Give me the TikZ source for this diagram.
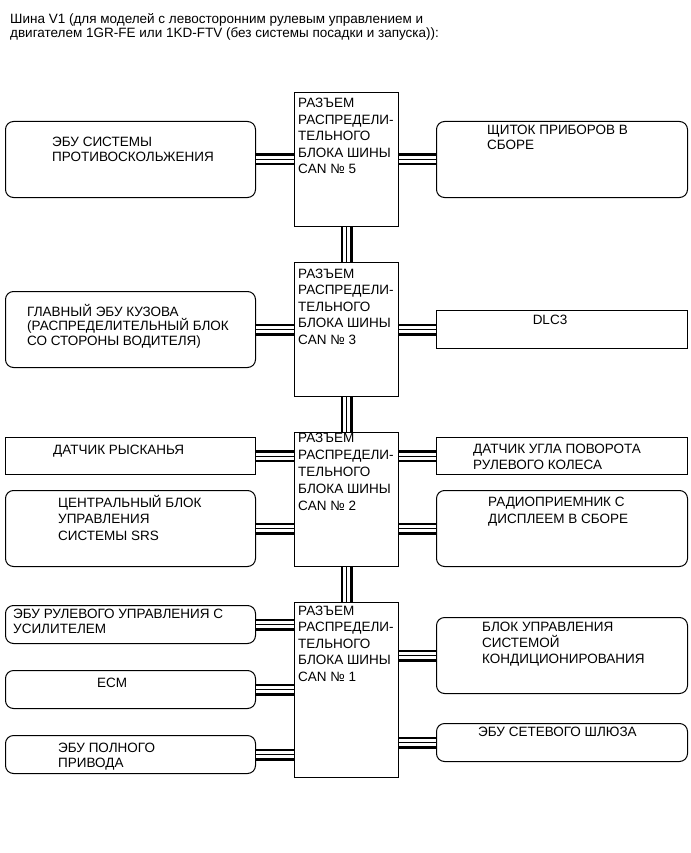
\documentclass[tikz,border=0pt]{standalone}
\usepackage{fontspec}
\setmainfont{Liberation Sans}
\begin{document}
\begin{tikzpicture}[x=1pt,y=-1pt,
  box/.style={draw=black, line width=1pt, inner sep=0pt, anchor=north west, minimum width=250pt},
  rbox/.style={box, rounded corners=8pt},
  hub/.style={draw=black, line width=1pt, inner sep=0pt, anchor=north west, minimum width=104pt},
  txt/.style={inner sep=0pt, anchor=base west, align=left, font=\fontsize{13.5}{15}\selectfont},
  htxt/.style={txt, font=\fontsize{13.5}{16.5}\selectfont},
  bus/.style={draw=black, line width=12pt, postaction={draw=white, line width=7pt}, postaction={draw=black, line width=1pt}}
]
\fill[white] (0,0) rectangle (690,853);
\useasboundingbox (0,0) rectangle (690,853);

% multi-line text nodes are placed by the baseline of their last line
\node[txt, font=\fontsize{13.5}{14}\selectfont] (title) at (10,38) {Шина V1 (для моделей с левосторонним рулевым управлением и\\двигателем 1GR-FE или 1KD-FTV (без системы посадки и запуска)):};

% hubs
\node[hub, minimum height=134pt] (h5) at (294,92) {};
\node[hub, minimum height=134pt] (h3) at (294,262) {};
\node[hub, minimum height=134pt] (h2) at (294,432) {};
\node[hub, minimum height=175pt] (h1) at (294,602) {};
\node[htxt] (t5) at (298,174) {РАЗЪЕМ\\РАСПРЕДЕЛИ-\\ТЕЛЬНОГО\\БЛОКА ШИНЫ\\CAN № 5};
\node[htxt] (t3) at (298,344) {РАЗЪЕМ\\РАСПРЕДЕЛИ-\\ТЕЛЬНОГО\\БЛОКА ШИНЫ\\CAN № 3};
\node[htxt, font=\fontsize{13.5}{17}\selectfont] (t2) at (298,510) {РАЗЪЕМ\\РАСПРЕДЕЛИ-\\ТЕЛЬНОГО\\БЛОКА ШИНЫ\\CAN № 2};
\node[htxt] (t1) at (298,681) {РАЗЪЕМ\\РАСПРЕДЕЛИ-\\ТЕЛЬНОГО\\БЛОКА ШИНЫ\\CAN № 1};

% left boxes
\node[rbox, minimum height=76pt] (l5) at (5,121) {};
\node[rbox, minimum height=76pt] (l3) at (5,291) {};
\node[box, minimum height=37pt] (l2a) at (5,437) {};
\node[rbox, minimum height=76pt] (l2b) at (5,490) {};
\node[rbox, minimum height=38pt] (l1a) at (5,605) {};
\node[rbox, minimum height=38pt] (l1b) at (5,670) {};
\node[rbox, minimum height=38pt] (l1c) at (5,735) {};

% right boxes
\node[rbox, minimum width=251pt, minimum height=76pt] (r5) at (436,121) {};
\node[box, minimum width=251pt, minimum height=38pt] (r3) at (436,310) {};
\node[box, minimum width=251pt, minimum height=37pt] (r2a) at (436,437) {};
\node[rbox, minimum width=251pt, minimum height=76pt] (r2b) at (436,490) {};
\node[rbox, minimum width=251pt, minimum height=76pt] (r1a) at (436,617) {};
\node[rbox, minimum width=251pt, minimum height=38pt] (r1b) at (436,723) {};

% texts
\node[txt] (tl5) at (52,161) {ЭБУ СИСТЕМЫ\\ПРОТИВОСКОЛЬЖЕНИЯ};
\node[txt] (tr5) at (487,150) {ЩИТОК ПРИБОРОВ В\\СБОРЕ};
\node[txt, font=\fontsize{13.5}{14.5}\selectfont] (tl3) at (27,345) {ГЛАВНЫЙ ЭБУ КУЗОВА\\(РАСПРЕДЕЛИТЕЛЬНЫЙ БЛОК\\СО СТОРОНЫ ВОДИТЕЛЯ)};
\node[txt, anchor=base] (tr3) at (550,324) {DLC3};
\node[txt] (tl2a) at (53,454) {ДАТЧИК РЫСКАНЬЯ};
\node[txt, font=\fontsize{13.5}{16.5}\selectfont] (tl2b) at (58,540) {ЦЕНТРАЛЬНЫЙ БЛОК\\УПРАВЛЕНИЯ\\СИСТЕМЫ SRS};
\node[txt, font=\fontsize{13.5}{16.5}\selectfont] (tr2a) at (473,469.5) {ДАТЧИК УГЛА ПОВОРОТА\\РУЛЕВОГО КОЛЕСА};
\node[txt, font=\fontsize{13.5}{17}\selectfont] (tr2b) at (488,523) {РАДИОПРИЕМНИК С\\ДИСПЛЕЕМ В СБОРЕ};
\node[txt] (tl1a) at (13,633) {ЭБУ РУЛЕВОГО УПРАВЛЕНИЯ С\\УСИЛИТЕЛЕМ};
\node[txt, anchor=base] (tl1b) at (112,687) {ECM};
\node[txt] (tl1c) at (58,767) {ЭБУ ПОЛНОГО\\ПРИВОДА};
\node[txt, font=\fontsize{13.5}{16}\selectfont] (tr1a) at (482,663) {БЛОК УПРАВЛЕНИЯ\\СИСТЕМОЙ\\КОНДИЦИОНИРОВАНИЯ};
\node[txt] (tr1b) at (478,736) {ЭБУ СЕТЕВОГО ШЛЮЗА};

% bus connectors
\draw[bus] (h5.south) -- (h3.north);
\draw[bus] (h3.south) -- (h2.north);
\draw[bus] (h2.south) -- (h1.north);
\foreach \b/\h in {l5/h5,l3/h3,l2a/h2,l2b/h2,l1a/h1,l1b/h1,l1c/h1}
  \draw[bus] (\b.east) -- (\b.east -| \h.west);
\foreach \b/\h in {r5/h5,r3/h3,r2a/h2,r2b/h2,r1a/h1,r1b/h1}
  \draw[bus] (\b.west) -- (\b.west -| \h.east);
\end{tikzpicture}
\end{document}
